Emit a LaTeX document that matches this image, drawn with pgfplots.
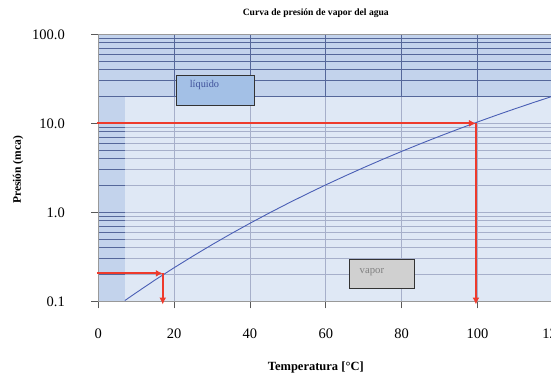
\documentclass[border=0pt]{standalone}
\usepackage{fontspec}
\setmainfont{Liberation Serif}
\usepackage{pgfplots}
\pgfplotsset{compat=1.18}
\usetikzlibrary{arrows.meta}
\definecolor{bgdark}{HTML}{C3D3EC}
\definecolor{gridc}{HTML}{55679A}
\definecolor{curvec}{HTML}{4A5FB5}
\definecolor{redc}{HTML}{EE3A2C}
\definecolor{liqfill}{HTML}{A3C0E6}
\definecolor{vapfill}{HTML}{D0D0D0}
\begin{document}
\begin{tikzpicture}
\begin{axis}[name=ax, scale only axis, width=455pt, height=267pt,
  ymode=log, xmin=0, xmax=120, ymin=0.1, ymax=100,
  axis background/.style={fill=bgdark},
  xtick={0,20,...,120}, ytick={0.1,1,10,100},
  yticklabels={0.1,1.0,10.0,100.0},
  xmajorgrids, ymajorgrids, yminorgrids,
  grid style={gridc, line width=0.9pt},
  minor grid style={gridc, line width=0.9pt},
  major grid style={gridc, line width=0.9pt},
  tick align=outside, tick pos=left, major tick length=7pt, minor tick length=0pt,
  tick style={gray!70!black, line width=0.8pt},
  axis line style={gray!80, line width=0.8pt},
  ticklabel style={font=\fontsize{14.5}{16}\selectfont},
  yticklabel style={xshift=-23pt},
  xticklabel style={yshift=-17pt},
  /pgf/number format/assume math mode=true,
  clip=false,
  title={Curva de presión de vapor del agua},
  title style={font=\fontsize{9.6}{10}\selectfont\bfseries, at={(0.478,1.0498)}, anchor=base},
  xlabel={Temperatura [°C]},
  xlabel style={font=\fontsize{12.5}{14}\selectfont\bfseries, at={(0.478,-0.261)}, anchor=base},
  ylabel={Presión (mca)},
  ylabel style={font=\fontsize{11.5}{13}\selectfont\bfseries, at={(-0.1765,0.492)}, anchor=center},
]
% inner (light) plot area
\addplot[draw=none, fill=white, fill opacity=0.48] coordinates {(7,0.1) (7,20) (120,20) (120,0.1)} -- cycle;
% vapour pressure curve
\addplot[curvec, line width=0.9pt] coordinates {
(7,0.102) (10,0.125) (15,0.174) (20,0.2385) (25,0.323) (30,0.433) (35,0.574)
(40,0.753) (45,0.978) (50,1.259) (55,1.607) (60,2.034) (65,2.552) (70,3.181)
(75,3.936) (80,4.834) (85,5.901) (90,7.156) (95,8.627) (100,10.34) (105,12.33)
(110,14.62) (115,17.25) (120,20.26)};
% red reading arrows
\addplot[redc, line width=2pt, -{Latex[length=7pt,width=7pt]}] coordinates {(-0.4,0.206) (17,0.206)};
\addplot[redc, line width=2pt, -{Latex[length=7pt,width=7pt]}] coordinates {(17,0.206) (17,0.092)};
\addplot[redc, line width=2pt, -{Latex[length=7pt,width=7pt]}] coordinates {(-0.4,10) (99.6,10)};
\addplot[redc, line width=2pt, -{Latex[length=7pt,width=7pt]}] coordinates {(99.6,10) (99.6,0.092)};
% annotation boxes
\draw[fill=liqfill, draw=gray!40!black, line width=0.8pt] (axis cs:20.7,16.1) rectangle (axis cs:41.1,34.3);
\node[anchor=west, inner sep=0pt, text=curvec!85!black, font=\fontsize{10.3}{12}\selectfont] at (axis cs:24.1,26.7) {líquido};
\draw[fill=vapfill, draw=gray!40!black, line width=0.8pt] (axis cs:66.1,0.140) rectangle (axis cs:83.3,0.2985);
\node[anchor=west, inner sep=0pt, text=gray, font=\fontsize{10.7}{12}\selectfont] at (axis cs:68.9,0.213) {vapor};
\end{axis}
\pgfresetboundingbox
\path[use as bounding box] ([shift={(-98.3pt,-74.7pt)}]ax.south west) rectangle ([shift={(452.7pt,301.3pt)}]ax.south west);
\end{tikzpicture}
\end{document}
